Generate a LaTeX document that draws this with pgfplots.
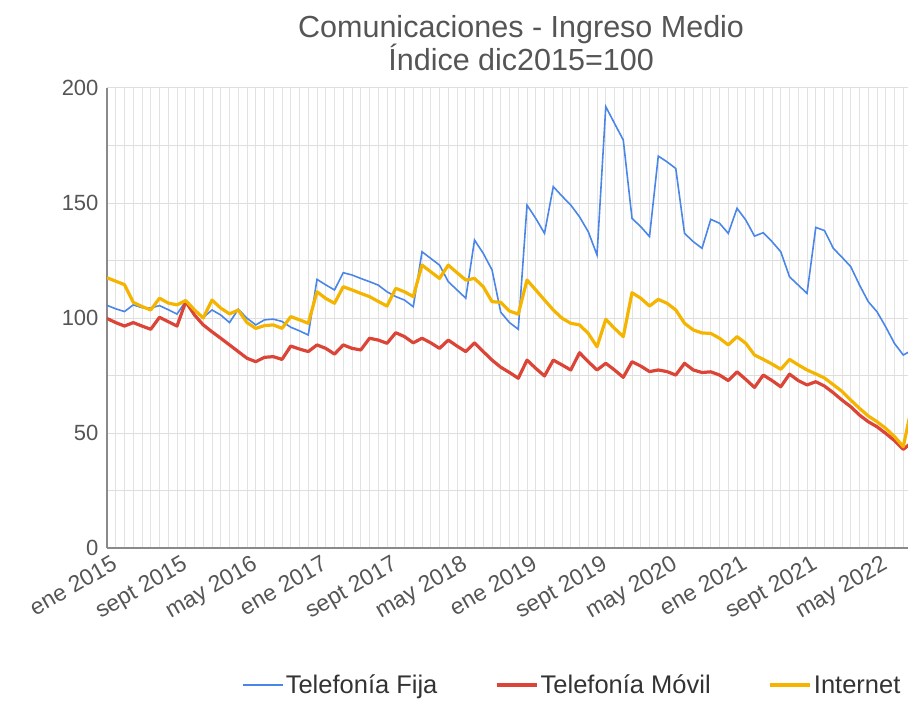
\documentclass[border=0pt]{standalone}
\usepackage{fontspec}
\setmainfont{Liberation Sans}
\usepackage{pgfplots}
\pgfplotsset{compat=1.18}
\usepackage{pgfplotstable}
\definecolor{cfija}{HTML}{4A86E8}
\definecolor{cmovil}{HTML}{DB4437}
\definecolor{cinternet}{HTML}{F4B400}
\definecolor{gridv}{HTML}{E2E2E2}
\definecolor{gridh}{HTML}{DEDEDE}
\definecolor{axisc}{HTML}{8A8A8A}
\definecolor{tickc}{HTML}{555555}
\definecolor{titlec}{HTML}{555555}
\definecolor{legc}{HTML}{333333}

\pgfplotstableread{
i fija movil internet
0 105.5 99.8 117.5
1 104.0 98.0 116.0
2 102.8 96.5 114.5
3 105.7 98.0 106.8
4 104.5 96.5 105.0
5 104.3 95.1 103.5
6 105.4 100.3 108.6
7 103.6 98.4 106.5
8 101.7 96.5 105.7
9 107.4 107.1 107.6
10 103.5 101.3 103.5
11 100.2 97.0 100.0
12 103.5 94.0 107.8
13 101.3 91.2 104.3
14 98.0 88.3 101.8
15 103.8 85.4 103.4
16 99.9 82.5 98.0
17 97.0 81.0 95.5
18 99.2 82.9 96.7
19 99.5 83.2 97.0
20 98.5 82.0 95.5
21 96.0 87.8 100.6
22 94.4 86.5 99.2
23 92.6 85.4 97.7
24 116.8 88.3 111.4
25 114.4 86.8 108.5
26 112.2 84.3 106.4
27 119.7 88.3 113.6
28 118.7 86.8 112.2
29 117.2 86.1 110.7
30 115.8 91.2 109.3
31 114.3 90.4 107.2
32 111.4 89.0 105.2
33 109.3 93.6 112.9
34 107.8 91.9 111.4
35 104.9 89.2 109.3
36 128.8 91.2 123.0
37 125.9 89.2 120.1
38 123.0 86.8 117.2
39 115.8 90.4 123.0
40 112.2 87.8 119.7
41 108.6 85.4 116.5
42 133.9 89.2 117.2
43 128.1 85.4 113.6
44 120.9 81.7 107.1
45 102.5 78.6 106.8
46 98.0 76.3 103.0
47 95.1 73.8 101.7
48 149.1 81.7 116.5
49 143.3 78.1 112.2
50 136.8 74.8 107.8
51 157.1 81.7 103.5
52 153.0 79.6 99.9
53 149.1 77.4 97.7
54 144.0 84.9 97.0
55 137.5 81.0 93.3
56 127.4 77.4 87.5
57 191.9 80.3 99.4
58 184.6 77.4 95.5
59 177.4 74.2 91.9
60 143.3 81.0 111.0
61 139.7 79.1 108.6
62 135.4 76.7 105.2
63 170.4 77.4 108.1
64 167.9 76.7 106.4
65 165.0 75.2 103.5
66 136.8 80.3 97.7
67 133.2 77.4 94.8
68 130.3 76.3 93.5
69 142.9 76.6 93.3
70 141.2 75.2 91.2
71 136.8 72.8 88.3
72 147.7 76.6 91.9
73 142.6 73.3 89.0
74 135.6 69.8 83.9
75 137.1 75.2 82.0
76 133.2 72.8 80.0
77 128.8 70.1 77.7
78 117.9 75.6 82.0
79 114.3 72.8 79.6
80 110.7 70.9 77.4
81 139.4 72.3 75.7
82 138.0 70.4 73.9
83 130.3 67.5 71.0
84 126.4 64.3 68.1
85 122.3 61.4 64.3
86 114.3 57.8 60.7
87 107.1 54.9 57.4
88 102.7 52.7 54.9
89 96.1 49.8 52.0
90 88.9 46.7 48.4
91 83.9 42.9 44.1
92 86.0 46.0 62.0
}\datatable

\begin{document}
\begin{tikzpicture}[x=1pt,y=1pt]
\path[use as bounding box] (0,0) rectangle (908,702);
\begin{axis}[
  at={(107pt,154pt)}, anchor=south west,
  scale only axis, width=801pt, height=460pt,
  xmin=0, xmax=91.54, ymin=0, ymax=200,
  axis x line*=bottom, axis y line*=left,
  axis line style={color=axisc, line width=1.6pt},
  xtick={0,8,...,88},
  xticklabels={ene 2015, sept 2015, may 2016, ene 2017, sept 2017, may 2018, ene 2019, sept 2019, may 2020, ene 2021, sept 2021, may 2022},
  minor xtick={0,1,...,91},
  ytick={0,50,...,200},
  minor ytick={25,75,125,175},
  major tick length=0pt, minor tick length=0pt,
  xmajorgrids, xminorgrids, ymajorgrids, yminorgrids,
  x grid style={color=gridv, line width=0.9pt},
  y grid style={color=gridh, line width=1pt},
  /pgf/number format/assume math mode=true,
  xticklabel style={rotate=30, anchor=north east, font=\fontsize{23}{23}\selectfont, text=tickc, inner sep=1pt, yshift=-6pt, xshift=1pt},
  yticklabel style={font=\fontsize{22}{22}\selectfont, text=tickc, anchor=east, xshift=-5pt},
  title={Comunicaciones - Ingreso Medio\\Índice dic2015=100},
  title style={at={(0.517,1)}, anchor=south, yshift=8pt, align=center, font=\fontsize{30.5}{33}\selectfont, text=titlec},
  legend columns=3,
  legend style={at={(0.997,-0.298)}, anchor=east, draw=none, fill=none, font=\fontsize{25.5}{25.5}\selectfont, text=legc,
    /tikz/every even column/.append style={column sep=56pt}},
  legend image code/.code={\draw[#1] (0pt,0pt) -- (40pt,0pt);},
  clip=true,
]
\addplot[color=cfija, line width=1.6pt] table[x=i, y=fija] {\datatable};
\addlegendentry{Telefonía Fija}
\addplot[color=cmovil, line width=3.2pt, line join=round] table[x=i, y=movil] {\datatable};
\addlegendentry{Telefonía Móvil}
\addplot[color=cinternet, line width=3.2pt, line join=round] table[x=i, y=internet] {\datatable};
\addlegendentry{Internet}
\end{axis}
\end{tikzpicture}
\end{document}
